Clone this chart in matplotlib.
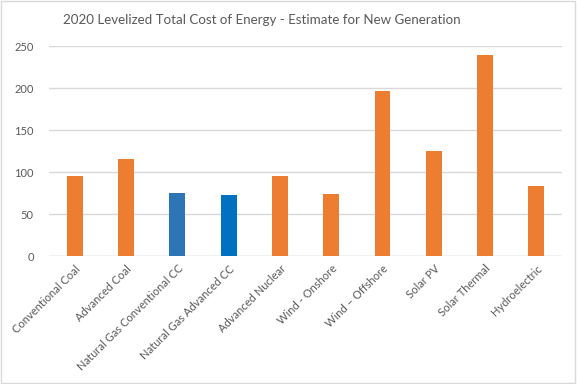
import matplotlib
matplotlib.use("Agg")
import matplotlib.pyplot as plt
from matplotlib.patches import Rectangle

plt.rcParams['font.family'] = ['Lato', 'DejaVu Sans']

# data
sources = ["Conventional Coal", "Advanced Coal", "Natural Gas Conventional CC",
           "Natural Gas Advanced CC", "Advanced Nuclear", "Wind - Onshore",
           "Wind \u2013 Offshore", "Solar PV", "Solar Thermal", "Hydroelectric"]
cost = [95.1, 115.7, 75.2, 72.6, 95.2, 73.6, 196.9, 125.3, 239.7, 83.5]
colors = ["#ED7D31", "#ED7D31", "#2E75B6", "#0070C0", "#ED7D31",
          "#ED7D31", "#ED7D31", "#ED7D31", "#ED7D31", "#ED7D31"]
yticks = [0, 50, 100, 150, 200, 250]

fig = plt.figure(figsize=(5.77, 3.84), dpi=100)
ax = fig.add_axes([0.085, 0.333, 0.889, 0.547])

x = range(len(sources))
ax.bar(x, cost, width=0.31, color=colors, zorder=2)

ax.set_ylim(0, 250)
ax.set_xlim(-0.5, len(sources) - 0.5)
ax.set_yticks(yticks)
ax.grid(axis="y", color="#D9D9D9", linewidth=1, zorder=0)
for s in ax.spines.values():
    s.set_visible(False)
ax.axhline(0, color="#D9D9D9", linewidth=1, zorder=1)
ax.tick_params(length=0, colors="#595959", labelsize=8)
ax.tick_params(axis="y", pad=11)
ax.tick_params(axis="x", pad=5)
ax.set_xticks(list(x))
ax.set_xticklabels(sources, rotation=45, ha="right", rotation_mode="anchor")

fig.text(0.453, 0.948, "2020 Levelized Total Cost of Energy - Estimate for New Generation",
         ha="center", va="center", fontsize=9.6, color="#595959")

# chart border
fig.patches.append(Rectangle((0.002, 0.003), 0.995, 0.994, transform=fig.transFigure,
                             fill=False, edgecolor="#D9D9D9", linewidth=1))

fig.savefig("out.png", dpi=100)
